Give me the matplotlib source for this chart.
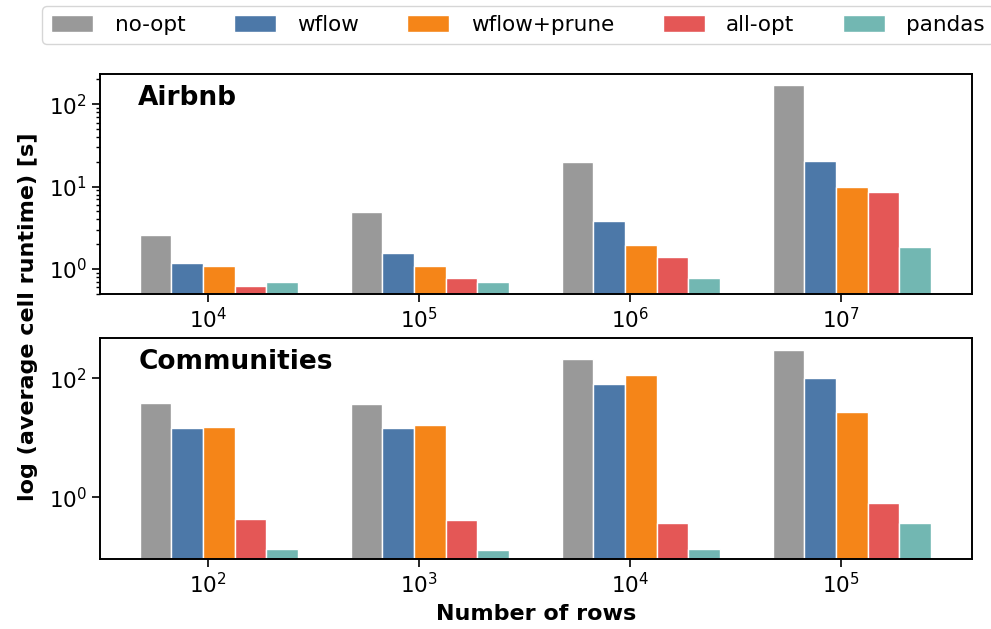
import numpy as np
import matplotlib
matplotlib.use("Agg")
import matplotlib.pyplot as plt
from matplotlib.ticker import FixedLocator, NullLocator, LogLocator

series = ["no-opt", "wflow", "wflow+prune", "all-opt", "pandas"]
colors = ["#999999", "#4c78a8", "#f58518", "#e45756", "#72b7b2"]

airbnb_rows = [r"$10^{4}$", r"$10^{5}$", r"$10^{6}$", r"$10^{7}$"]
airbnb = {
    "no-opt":      [2.6, 4.9, 19.8, 170],
    "wflow":       [1.17, 1.58, 3.8, 20.5],
    "wflow+prune": [1.09, 1.09, 1.94, 9.9],
    "all-opt":     [0.63, 0.78, 1.39, 8.6],
    "pandas":      [0.69, 0.69, 0.78, 1.87],
}

comm_rows = [r"$10^{2}$", r"$10^{3}$", r"$10^{4}$", r"$10^{5}$"]
communities = {
    "no-opt":      [38, 36.5, 210, 300],
    "wflow":       [14.4, 14.6, 80, 100],
    "wflow+prune": [15.2, 16.6, 112, 27.5],
    "all-opt":     [0.43, 0.41, 0.37, 0.79],
    "pandas":      [0.134, 0.13, 0.134, 0.37],
}

plt.rcParams['font.family'] = ['DejaVu Sans']
fs = 15.5
width = 0.15

fig = plt.figure(figsize=(9.91, 6.29), dpi=100)
ax1 = fig.add_axes([0.1009, 0.5326, 0.8796, 0.3498])
ax2 = fig.add_axes([0.1009, 0.1118, 0.8796, 0.3504])


def draw(ax, data, labels, title, ylim):
    x = np.arange(len(labels))
    handles = []
    for i, name in enumerate(series):
        b = ax.bar(x - 0.25 + i * width, data[name], width, color=colors[i],
                   edgecolor="white", linewidth=1, label=name)
        handles.append(b)
    ax.set_yscale("log")
    ax.set_ylim(*ylim)
    ax.set_xlim(-0.513, 3.618)
    ax.set_xticks(x)
    ax.set_xticklabels(labels, fontsize=fs)
    ax.tick_params(axis="both", labelsize=fs, length=6, width=1.2)
    ax.tick_params(axis="y", which="minor", length=3, width=1)
    for s in ax.spines.values():
        s.set_linewidth(1.4)
    ax.text(0.044, 0.95, title, transform=ax.transAxes, fontsize=19,
            fontweight="bold", va="top", ha="left")
    return handles


handles = draw(ax1, airbnb, airbnb_rows, "Airbnb", (0.497, 233))
ax1.yaxis.set_major_locator(FixedLocator([1, 10, 100]))
ax1.yaxis.set_minor_locator(LogLocator(base=10, subs=np.arange(2, 10)))

draw(ax2, communities, comm_rows, "Communities", (0.093, 470))
ax2.yaxis.set_major_locator(FixedLocator([1, 100]))
ax2.yaxis.set_minor_locator(NullLocator())

ax2.set_xlabel("Number of rows", fontsize=16, fontweight="bold", labelpad=5)
fig.text(0.028, 0.497, "log (average cell runtime) [s]", rotation=90,
         fontsize=16, fontweight="bold", ha="center", va="center")

fig.legend(handles, series, loc="upper center", bbox_to_anchor=(0.5227, 0.99),
           ncol=5, fontsize=fs, frameon=True, columnspacing=2.25,
           handlelength=1.95, handleheight=0.8, handletextpad=1.0,
           borderaxespad=0)

fig.savefig("out.png", dpi=100)
